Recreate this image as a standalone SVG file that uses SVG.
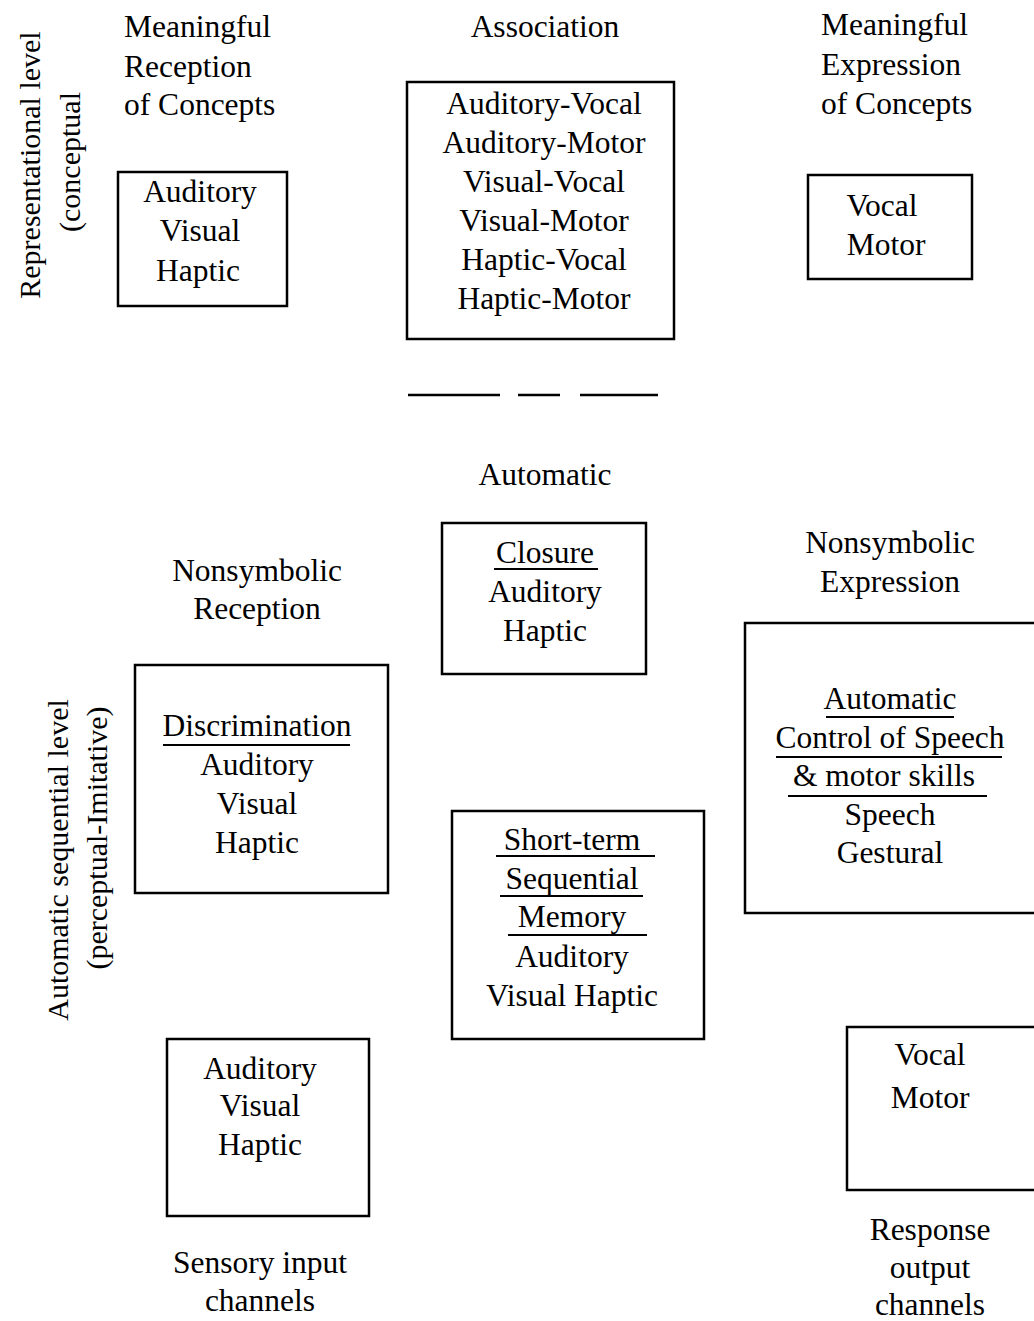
<svg xmlns="http://www.w3.org/2000/svg" width="1034" height="1321" viewBox="0 0 1034 1321">
<style>
text{font-family:"Liberation Serif","Times New Roman",serif;font-size:31.5px;fill:#000}
.c{text-anchor:middle}
.v{font-size:30px}
.box{fill:none;stroke:#000;stroke-width:2.5}
.ul{stroke:#000;stroke-width:2}
</style>
<rect width="1034" height="1321" fill="#fff"/>
<g id="axis-labels">
<text class="c v" transform="translate(40,165) rotate(-90)">Representational level</text>
<text class="c v" transform="translate(80,162) rotate(-90)">(conceptual</text>
<text class="c v" transform="translate(68,860) rotate(-90)">Automatic sequential level</text>
<text class="c v" transform="translate(107,838) rotate(-90)">(perceptual-Imitative)</text>
</g>
<g id="headings">
<text x="124" y="37">Meaningful</text>
<text x="124" y="77">Reception</text>
<text x="124" y="115">of Concepts</text>
<text class="c" x="545" y="37">Association</text>
<text x="821" y="35">Meaningful</text>
<text x="821" y="75">Expression</text>
<text x="821" y="114">of Concepts</text>
<text class="c" x="545" y="485">Automatic</text>
<text class="c" x="257" y="581">Nonsymbolic</text>
<text class="c" x="257" y="619">Reception</text>
<text class="c" x="890" y="553">Nonsymbolic</text>
<text class="c" x="890" y="592">Expression</text>
<text class="c" x="260" y="1273">Sensory input</text>
<text class="c" x="260" y="1311">channels</text>
<text class="c" x="930" y="1240">Response</text>
<text class="c" x="930" y="1278">output</text>
<text class="c" x="930" y="1315">channels</text>
</g>
<g id="node-meaningful-reception">
<rect class="box" x="118" y="172" width="169" height="134"/>
<text class="c" x="200" y="202">Auditory</text>
<text class="c" x="200" y="241">Visual</text>
<text class="c" x="198" y="281">Haptic</text>
</g>
<g id="node-association">
<rect class="box" x="407" y="82" width="267" height="257"/>
<text class="c" x="544" y="114">Auditory-Vocal</text>
<text class="c" x="544" y="153">Auditory-Motor</text>
<text class="c" x="544" y="192">Visual-Vocal</text>
<text class="c" x="544" y="231">Visual-Motor</text>
<text class="c" x="544" y="270">Haptic-Vocal</text>
<text class="c" x="544" y="309">Haptic-Motor</text>
</g>
<g id="node-meaningful-expression">
<rect class="box" x="808" y="175" width="164" height="104"/>
<text class="c" x="882" y="216">Vocal</text>
<text class="c" x="886" y="255">Motor</text>
</g>
<g id="divider">
<line x1="408" y1="395" x2="500" y2="395" stroke="#000" stroke-width="2.5"/>
<line x1="518" y1="395" x2="560" y2="395" stroke="#000" stroke-width="2.5"/>
<line x1="580" y1="395" x2="658" y2="395" stroke="#000" stroke-width="2.5"/>
</g>
<g id="node-closure">
<rect class="box" x="442" y="523" width="204" height="151"/>
<text class="c" x="545" y="563">Closure</text>
<line class="ul" x1="494" y1="569" x2="598" y2="569"/>
<text class="c" x="545" y="602">Auditory</text>
<text class="c" x="545" y="641">Haptic</text>
</g>
<g id="node-discrimination">
<rect class="box" x="135" y="665" width="253" height="228"/>
<text class="c" x="257" y="736">Discrimination</text>
<line class="ul" x1="163" y1="745" x2="350" y2="745"/>
<text class="c" x="257" y="775">Auditory</text>
<text class="c" x="257" y="814">Visual</text>
<text class="c" x="257" y="853">Haptic</text>
</g>
<g id="node-automatic-control">
<rect class="box" x="745" y="623" width="300" height="290"/>
<text class="c" x="890" y="709">Automatic</text>
<line class="ul" x1="826" y1="717" x2="954" y2="717"/>
<text class="c" x="890" y="748">Control of Speech</text>
<line class="ul" x1="776" y1="757" x2="1002" y2="757"/>
<text class="c" x="884" y="786">&amp; motor skills</text>
<line class="ul" x1="788" y1="796" x2="987" y2="796"/>
<text class="c" x="890" y="825">Speech</text>
<text class="c" x="890" y="863">Gestural</text>
</g>
<g id="node-short-term-memory">
<rect class="box" x="452" y="811" width="252" height="228"/>
<text class="c" x="572" y="850">Short-term</text>
<line class="ul" x1="496" y1="856" x2="655" y2="856"/>
<text class="c" x="572" y="889">Sequential</text>
<line class="ul" x1="500" y1="896" x2="643" y2="896"/>
<text class="c" x="572" y="927">Memory</text>
<line class="ul" x1="508" y1="935" x2="647" y2="935"/>
<text class="c" x="572" y="967">Auditory</text>
<text class="c" x="572" y="1006">Visual Haptic</text>
</g>
<g id="node-sensory-input">
<rect class="box" x="167" y="1039" width="202" height="177"/>
<text class="c" x="260" y="1079">Auditory</text>
<text class="c" x="260" y="1116">Visual</text>
<text class="c" x="260" y="1155">Haptic</text>
</g>
<g id="node-response-output">
<rect class="box" x="847" y="1027" width="200" height="163"/>
<text class="c" x="930" y="1065">Vocal</text>
<text class="c" x="930" y="1108">Motor</text>
</g>
<g id="connectors"></g>
</svg>
